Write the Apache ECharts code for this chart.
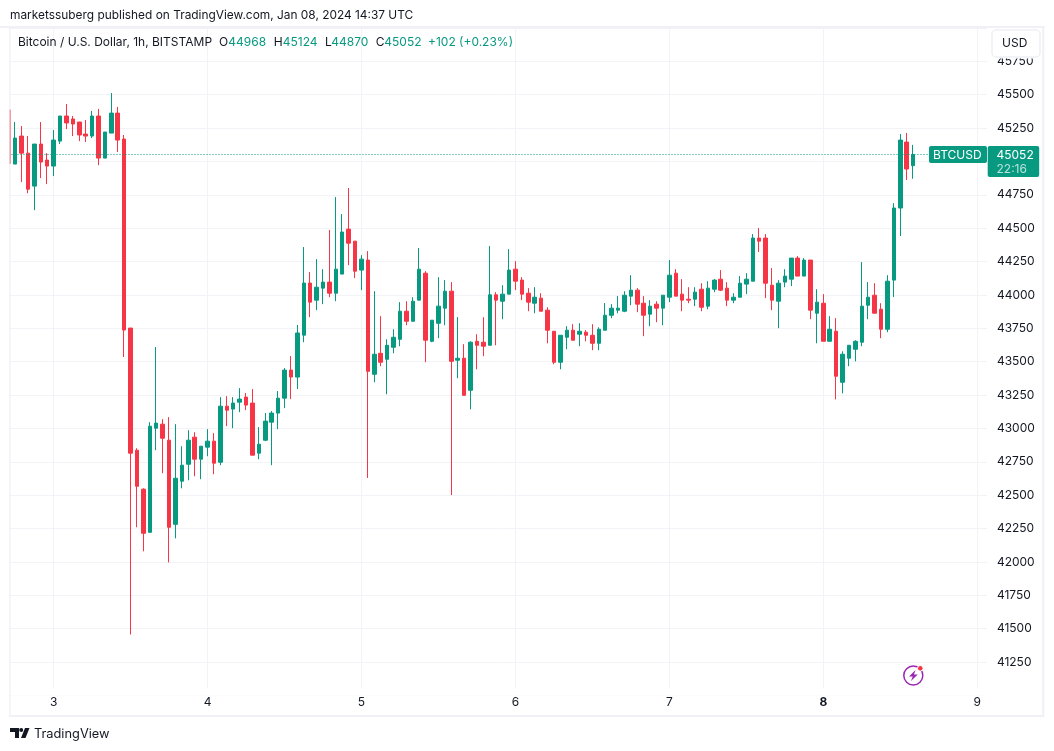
<!DOCTYPE html>
<html><head><meta charset="utf-8">
<style>html,body{margin:0;padding:0;background:#fff}#c{width:1054px;height:751px}</style>
<script src="https://cdn.jsdelivr.net/npm/echarts@6/dist/echarts.min.js"></script>
</head><body><div id="c"></div>
<script>
// hourly candles, the first one is 7 h before Jan 3 00:00
const opens=[45385,44980,45190,45062,44815,45130,45010,44965,45152,45340,45318,45295,45205,45190,45340,45025,45212,45362,45168,43752,42837,42545,42222,43002,43032,42912,42282,42605,42732,42935,42770,42860,42905,42747,43167,43145,43197,43235,43190,42815,42912,43047,43115,43227,43437,43385,43699,44089,43961,44051,44096,44013,44156,44493,44403,44186,44261,43406,43563,43518,43608,43668,43878,43803,43961,44163,43653,43788,43901,44028,43511,43526,43286,43653,43646,43623,44001,43953,44006,44193,44111,44013,43938,43976,43886,43728,43496,43683,43736,43706,43721,43698,43638,43736,43848,43886,43878,43991,44036,43938,43856,43931,43901,43983,44163,44006,43968,43968,44043,43916,44043,44118,44051,43961,43983,44081,44103,44426,44426,44073,43953,44096,44118,44276,44141,44261,43863,43938,43653,43728,43346,43526,43593,43646,43923,43998,43893,43743,44111,44651,45145,44968];
const highs=[45385,45295,45265,45190,45130,45295,45062,45235,45340,45430,45340,45295,45310,45378,45393,45220,45512,45408,45198,43752,42852,42552,43047,43610,43070,43085,43032,42867,42987,42972,42867,42995,42965,43235,43242,43235,43302,43265,43295,43010,43115,43130,43280,43452,43542,43775,44359,44171,44268,44193,44486,44733,44606,44801,44403,44298,44328,44028,43841,43668,43743,43946,43953,43983,44351,44178,43811,44133,44111,44096,43834,43631,43653,43706,43833,44366,44021,44073,44343,44253,44133,44051,44058,44013,43908,43728,43698,43766,43781,43788,43736,43781,43758,43939,43931,43991,44028,44148,44051,43991,43961,43953,43998,44261,44193,44118,44058,44058,44088,44103,44118,44186,44096,44013,44141,44163,44456,44501,44456,44201,44111,44193,44276,44291,44276,44261,44043,44006,43841,43826,43578,43623,43661,44246,44096,44088,43938,44148,44688,45205,45213,45124];
const lows=[44985,44980,44845,44762,44635,44875,44830,44890,45130,45242,45190,45152,45145,45175,44972,45025,45212,45070,43535,41457,42260,42080,42222,42837,42665,41997,42177,42552,42612,42642,42620,42792,42657,42725,43017,43002,43122,43137,42800,42770,42905,42725,42995,43152,43220,43295,43646,43834,43886,43931,43983,43953,44156,44223,44126,44036,42629,43346,43466,43256,43563,43616,43773,43803,43961,43496,43646,43676,43773,42501,43376,43248,43143,43443,43541,43623,43623,43818,44006,44036,43961,43878,43863,43878,43638,43481,43443,43593,43661,43616,43653,43586,43586,43736,43826,43863,43871,43923,43871,43691,43766,43796,43773,43946,43991,43878,43938,43916,43878,43893,44021,44029,43916,43938,43983,44006,44103,44321,43976,43886,43751,44058,44066,44141,44141,43818,43638,43653,43653,43218,43263,43466,43503,43616,43818,43863,43676,43721,43984,44441,44861,44870];
const closes=[44985,45175,45062,44792,45130,44995,44965,45160,45340,45288,45280,45198,45190,45340,45025,45220,45362,45160,43737,42815,42567,42215,43017,43040,42927,42260,42627,42725,42912,42770,42867,42905,42740,43167,43137,43190,43220,43175,42800,42882,43055,43115,43227,43437,43385,43715,44089,43946,44058,44096,44013,44193,44471,44388,44178,44268,43428,43556,43496,43623,43683,43878,43803,43953,44193,43661,43811,43916,44028,43503,43526,43248,43646,43623,43616,44001,43961,44006,44186,44103,44006,43946,43983,43878,43736,43496,43698,43736,43661,43728,43698,43638,43743,43848,43901,43901,43998,44036,43931,43848,43916,43901,43998,44148,43991,43961,43961,44021,43908,44051,44111,44036,43961,43983,44088,44118,44426,44403,44088,43961,44088,44141,44276,44141,44261,43886,43946,43653,43743,43391,43556,43623,43653,43916,43983,43863,43743,44103,44651,45160,44943,45052];
const dayLabels=['3','4','5','6','7','8','9'];
const firstHour=-7, lastHour=145;
const lastPrice=45052;

const up='#089981', down='#F63646', ink='#131722', grid='#f2f3f6', frame='#f0f0f6';
const FONT='Inter, "Liberation Sans", sans-serif';

const categories=[];
for(let k=firstHour;k<=lastHour;k++) categories.push(k%24===0?dayLabels[k/24]:'');
const candles=opens.map((o,i)=>[o,closes[i],lows[i],highs[i]]);

function txt(x,y,text,fill,opts){
  return Object.assign({type:'text',z:200,x:x,y:y,silent:true,
    style:Object.assign({text:text,fill:fill,font:'12px '+FONT,textVerticalAlign:'middle'},opts||{})});
}
function box(x,y,w,h,fill,opts){
  return Object.assign({type:'rect',z:150,silent:true,shape:Object.assign({x:x,y:y,width:w,height:h},(opts&&opts.shape)||{}),
    style:Object.assign({fill:fill},(opts&&opts.style)||{})},{});
}
const green='#089981';
const graphics=[
  // masks outside the plot
  box(0,0,9.3,751,'#fff'),
  box(9.3,26,0.7,691,frame),
  box(10,26,1,691,'rgba(240,240,246,0.55)'),
  box(0,0,1054,26,'#fff'),
  box(0,26,1045,2,frame),
  box(11,688.5,976,7.2,'#fff'),
  box(1042.3,26,2,691,frame),
  box(9.3,715,1035,2,frame),
  // USD button
  box(990,29,52,29.5,'#fff'),
  box(992,30,48,27,'#fff',{shape:{r:4},style:{stroke:'#eff0f5',lineWidth:1.5}}),
  txt(1002,43.5,'USD',ink),
  // header
  txt(10,15.5,'marketssuberg published on TradingView.com, Jan 08, 2024 14:37 UTC',ink,{font:'11.9px '+FONT}),
  txt(18,42.5,'Bitcoin / U.S. Dollar, 1h, BITSTAMP',ink),
  txt(219,42.5,'O',ink), txt(228.3,42.5,'44968',green),
  txt(273.7,42.5,'H',ink), txt(282.7,42.5,'45124',green),
  txt(325,42.5,'L',ink), txt(331.3,42.5,'44870',green),
  txt(375.7,42.5,'C',ink), txt(384.3,42.5,'45052',green),
  txt(428,42.5,'+102 (+0.23%)',green),
  // price tags
  box(929,146,58,17,green,{shape:{r:2}}),
  txt(933,155,'BTCUSD','#fff'),
  box(987.7,146,51.5,31,green,{shape:{r:2}}),
  txt(996.5,155,'45052','#fff'),
  txt(996.5,169,'22:16','#b9e3d9'),
  // footer logo
  {type:'polygon',z:200,silent:true,shape:{points:[[10,728],[19,728],[19,738],[15,738],[15,732],[10,732]]},style:{fill:ink}},
  {type:'circle',z:200,silent:true,shape:{cx:21.2,cy:730,r:2},style:{fill:ink}},
  {type:'polygon',z:200,silent:true,shape:{points:[[25,728],[29.5,728],[25.5,738],[21,738]]},style:{fill:ink}},
  txt(34,734,'TradingView',ink,{font:'12.8px '+FONT}),
  // bolt icon
  {type:'circle',z:200,silent:true,shape:{cx:913.3,cy:675.5,r:9.5},style:{fill:'none',stroke:'#9c27b0',lineWidth:1.5}},
  {type:'polygon',z:200,silent:true,shape:{points:[[915.5,670],[909,676.5],[912.7,676.5],[911,681],[917.8,674.5],[914,674.5]]},style:{fill:'#9c27b0'}},
  {type:'circle',z:201,silent:true,shape:{cx:920.3,cy:668.3,r:2.8},style:{fill:'#f63646',stroke:'#fff',lineWidth:1}}
];

const chart=echarts.init(document.getElementById('c'),null,{renderer:'canvas'});
chart.setOption({
  animation:false,
  textStyle:{fontFamily:FONT},
  grid:{left:5.49,right:1054-986.9,top:27.9,bottom:751-695.5,containLabel:false},
  xAxis:{type:'category',data:categories,boundaryGap:true,
    axisLine:{show:false},axisTick:{show:false},
    axisLabel:{interval:(i,v)=>v!=='',margin:1,fontSize:12,fontFamily:FONT,color:ink,
      formatter:v=>v==='8'?'{b|8}':v,
      rich:{b:{fontWeight:700,fontSize:12,fontFamily:FONT,color:ink}}},
    splitLine:{show:true,interval:(i,v)=>v!=='',alignWithLabel:true,lineStyle:{color:grid,width:1}}
  },
  yAxis:{type:'value',position:'right',min:41000,max:46000,interval:250,scale:true,
    axisLine:{show:false},axisTick:{show:false},
    axisLabel:{margin:10,fontSize:12,fontFamily:FONT,color:ink,
      formatter:v=>(v===41000||v===46000)?'':String(v)},
    splitLine:{show:true,lineStyle:{color:grid,width:1}}
  },
  series:[{type:'candlestick',data:candles,barWidth:4,clip:false,
    itemStyle:{color:up,color0:down,borderColor:up,borderColor0:down,borderWidth:1},
    emphasis:{disabled:true},
    markLine:{silent:true,symbol:'none',animation:false,label:{show:false},
      lineStyle:{color:up,type:[1,2],width:1},
      data:[{yAxis:lastPrice}]}
  }],
  graphic:graphics
});
</script></body></html>
